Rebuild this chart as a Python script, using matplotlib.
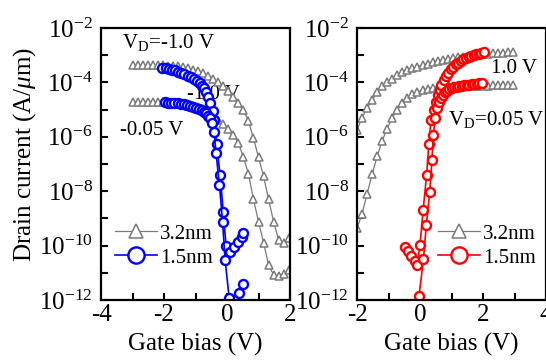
import matplotlib
matplotlib.use("Agg")
import matplotlib.pyplot as plt
import numpy as np
from matplotlib.ticker import FixedLocator, FuncFormatter

plt.rcParams['font.family'] = 'Liberation Serif'
plt.rcParams['mathtext.fontset'] = 'custom'
plt.rcParams['mathtext.rm'] = 'Liberation Serif'
plt.rcParams['mathtext.it'] = 'Liberation Serif:italic'
plt.rcParams['axes.unicode_minus'] = False

# ---- left panel (p-type), log10 of drain current ----
vg_gray_l = [-3.0, -2.84, -2.68, -2.52, -2.36, -2.2, -2.04, -1.88, -1.72, -1.56, -1.4, -1.24,
             -1.08, -0.92, -0.76, -0.6, -0.44, -0.28, -0.12, 0.04, 0.2, 0.36, 0.52, 0.68,
             0.84, 1.0, 1.16, 1.32, 1.48, 1.64, 1.8, 1.96]
gray_l_hi = [-3.36, -3.36, -3.36, -3.36, -3.36, -3.37, -3.37, -3.38, -3.39, -3.41, -3.44, -3.48,
             -3.53, -3.59, -3.66, -3.75, -3.86, -3.99, -4.14, -4.32, -4.52, -4.74, -5.01, -5.42,
             -6.05, -6.75, -7.45, -8.30, -9.12, -9.80, -9.92, -9.73]
gray_l_lo = [-4.71, -4.71, -4.71, -4.71, -4.71, -4.72, -4.72, -4.73, -4.75, -4.77, -4.81, -4.86,
             -4.92, -4.98, -5.05, -5.13, -5.24, -5.37, -5.52, -5.70, -5.93, -6.22, -6.75, -7.35,
             -8.30, -9.12, -9.89, -10.71, -11.08, -11.12, -11.04, -10.90]

vg_blue_hi = [-2.05, -1.95, -1.85, -1.75, -1.65, -1.55, -1.45, -1.35, -1.25, -1.15, -1.05, -0.95,
              -0.87, -0.8, -0.73, -0.67, -0.6, -0.53, -0.46, -0.4, -0.33, -0.22, -0.12, -0.03,
              0.1, 0.22, 0.36, 0.47, 0.52]
blue_hi = [-3.46, -3.48, -3.5, -3.53, -3.56, -3.6, -3.64, -3.69, -3.75, -3.81, -3.88, -3.96,
           -4.04, -4.12, -4.22, -4.34, -4.52, -4.76, -5.05, -5.38, -6.26, -7.4, -8.75, -10.01,
           -10.22, -10.06, -9.86, -9.67, -9.55]
vg_blue_lo = [-1.97, -1.87, -1.77, -1.67, -1.57, -1.47, -1.37, -1.27, -1.17, -1.07, -0.97, -0.88,
              -0.8, -0.73, -0.66, -0.6, -0.54, -0.48, -0.41, -0.35, -0.24, -0.14, -0.06, 0.07,
              0.38, 0.5]
blue_lo = [-4.73, -4.74, -4.75, -4.76, -4.77, -4.79, -4.81, -4.83, -4.86, -4.89, -4.93, -4.97,
           -5.01, -5.07, -5.14, -5.22, -5.32, -5.5, -5.81, -6.58, -7.77, -9.12, -10.53, -11.94,
           -11.75, -11.42]

# ---- right panel (n-type) ----
vg_gray_r = [-2.0, -1.84, -1.68, -1.52, -1.36, -1.2, -1.04, -0.88, -0.72, -0.56, -0.4, -0.24,
             -0.08, 0.08, 0.24, 0.4, 0.56, 0.72, 0.88, 1.04, 1.2, 1.36, 1.52, 1.68,
             1.84, 2.0, 2.16, 2.32, 2.48, 2.64, 2.8, 2.96]
gray_r_hi = [-5.75, -5.3, -4.95, -4.65, -4.36, -4.15, -3.99, -3.86, -3.73, -3.63, -3.54, -3.48,
             -3.42, -3.37, -3.31, -3.25, -3.21, -3.18, -3.14, -3.11, -3.08, -3.05, -3.03, -3.0,
             -2.98, -2.96, -2.94, -2.93, -2.92, -2.91, -2.9, -2.89]
gray_r_lo = [-9.36, -8.84, -8.1, -7.38, -6.72, -6.14, -5.7, -5.3, -5.0, -4.76, -4.58, -4.44,
             -4.35, -4.28, -4.23, -4.2, -4.17, -4.16, -4.15, -4.14, -4.14, -4.13, -4.13, -4.12,
             -4.12, -4.12, -4.12, -4.11, -4.11, -4.11, -4.11, -4.11]

vg_red_hi = [-0.49, -0.39, -0.27, -0.17, -0.09, 0.0, 0.1, 0.21, 0.28, 0.35, 0.44, 0.5, 0.56,
             0.62, 0.68, 0.75, 0.82, 0.9, 0.98, 1.06, 1.14, 1.22, 1.3, 1.38, 1.46, 1.54, 1.62,
             1.7, 1.78, 1.86, 1.94, 2.02]
red_hi = [-10.04, -10.2, -10.38, -10.55, -10.71, -9.98, -8.69, -7.4, -6.26, -5.38, -5.01, -4.71,
          -4.48, -4.28, -4.1, -3.93, -3.78, -3.64, -3.52, -3.42, -3.34, -3.27, -3.21, -3.15,
          -3.11, -3.07, -3.04, -3.0, -2.97, -2.94, -2.92, -2.9]
vg_red_lo = [-0.03, 0.11, 0.2, 0.31, 0.38, 0.42, 0.49, 0.55, 0.6, 0.66, 0.72, 0.78, 0.85, 0.92,
             1.0, 1.08, 1.16, 1.24, 1.32, 1.4, 1.48, 1.56, 1.64, 1.72, 1.8, 1.88, 1.96]
red_lo = [-11.84, -10.5, -9.24, -8.02, -6.85, -5.93, -5.3, -4.95, -4.72, -4.56, -4.45, -4.37,
          -4.3, -4.25, -4.21, -4.18, -4.16, -4.14, -4.12, -4.1, -4.09, -4.08, -4.07, -4.06,
          -4.05, -4.04, -4.03]

GRAY = '#7a7a7a'
tri_kw = dict(color=GRAY, marker='^', ms=5.5, mfc='white', mec=GRAY, mew=1.1, lw=0.9)


def circ_kw(c):
    return dict(color=c, marker='o', ms=6.5, mfc='white', mec=c, mew=1.7, lw=1.2)


def log_fmt(v, pos):
    e = int(round(np.log10(v)))
    if e % 2:
        return ''
    return r'$10^{%d}$' % e


def style_axes(ax, xlim, xticks):
    ax.set_yscale('log')
    ax.set_xlim(*xlim)
    ax.set_ylim(1e-12, 1e-2)
    ax.xaxis.set_major_locator(FixedLocator(xticks))
    ax.xaxis.set_major_formatter(FuncFormatter(lambda v, p: '%d' % v if int(v) % 2 == 0 else ''))
    ax.yaxis.set_major_locator(FixedLocator([10.0 ** k for k in range(-12, -1)]))
    ax.yaxis.set_major_formatter(FuncFormatter(log_fmt))
    ax.yaxis.set_minor_locator(FixedLocator([]))
    ax.tick_params(direction='in', length=5, width=1.5, labelsize=18, top=False, right=False)
    ax.tick_params(axis='x', pad=3)
    ax.tick_params(axis='y', pad=6)
    for s in ax.spines.values():
        s.set_linewidth(1.6)
    ax.set_xlabel('Gate bias (V)', fontsize=18, labelpad=5)


fig = plt.figure(figsize=(5.46, 3.6), dpi=100)
ax1 = fig.add_axes([101 / 546, 60 / 360, 189 / 546, 272 / 360])
ax2 = fig.add_axes([357 / 546, 60 / 360, 189 / 546, 272 / 360])

ax1.plot(vg_gray_l, 10.0 ** np.array(gray_l_hi), label='3.2nm', **tri_kw)
ax1.plot(vg_gray_l, 10.0 ** np.array(gray_l_lo), **tri_kw)
ax1.plot(vg_blue_hi, 10.0 ** np.array(blue_hi), label='1.5nm', **circ_kw('#0000ff'))
ax1.plot(vg_blue_lo, 10.0 ** np.array(blue_lo), **circ_kw('#0000ff'))
style_axes(ax1, (-4, 2), [-4, -3, -2, -1, 0, 1, 2])

ax2.plot(vg_gray_r, 10.0 ** np.array(gray_r_hi), label='3.2nm', **tri_kw)
ax2.plot(vg_gray_r, 10.0 ** np.array(gray_r_lo), **tri_kw)
ax2.plot(vg_red_hi, 10.0 ** np.array(red_hi), label='1.5nm', **circ_kw('#ff0000'))
ax2.plot(vg_red_lo, 10.0 ** np.array(red_lo), **circ_kw('#ff0000'))
style_axes(ax2, (-2, 4), [-2, -1, 0, 1, 2, 3, 4])

# annotations
ax1.text(0.111, 0.926, r'V$_{\rm D}$=-1.0 V', transform=ax1.transAxes, fontsize=15, zorder=1)
ax1.text(0.455, 0.739, '-1.0 V', transform=ax1.transAxes, fontsize=15, zorder=1)
ax1.text(0.10, 0.607, '-0.05 V', transform=ax1.transAxes, fontsize=15, zorder=1)
ax2.text(0.709, 0.835, '1.0 V', transform=ax2.transAxes, fontsize=15, zorder=1)
ax2.text(0.481, 0.643, r'V$_{\rm D}$=0.05 V', transform=ax2.transAxes, fontsize=15, zorder=1)

for ax, x0 in ((ax1, 0.074), (ax2, 0.43)):
    ax.legend(loc='center left', bbox_to_anchor=(x0, 0.199), frameon=False, fontsize=15,
              borderpad=0, borderaxespad=0, handlelength=2.0, handletextpad=0.15,
              labelspacing=0.2, markerscale=1.8)

fig.text(25 / 546, 1 - 155 / 360, r'Drain current (A/$\mu$m)', rotation=90,
         ha='center', va='center', fontsize=18)

fig.savefig('out.png', dpi=100)
